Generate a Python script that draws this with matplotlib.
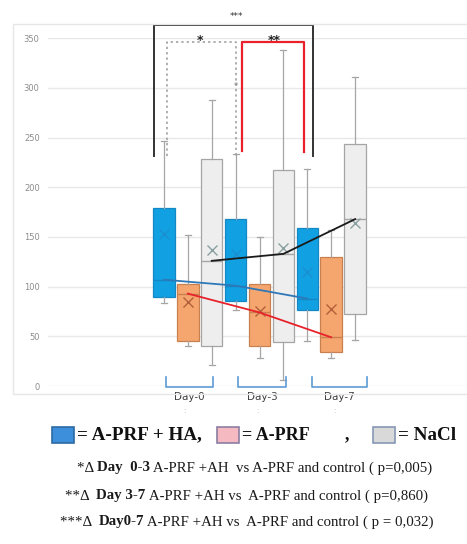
import matplotlib
matplotlib.use("Agg")
import matplotlib.pyplot as plt
from matplotlib.patches import Rectangle

# data (values in the y-axis unit)
days = ["Day-0", "Day-3", "Day-7"]
series = ["A-PRF + HA", "A-PRF", "NaCl"]

ha_lo = [84, 77, 45]
ha_q1 = [90, 86, 76]
ha_med = [107, 101, 88]
ha_q3 = [179, 168, 159]
ha_hi = [247, 234, 218]
ha_mean = [153, 133, 115]

prf_lo = [40, 28, 28]
prf_q1 = [45, 40, 34]
prf_med = [93, 74, 49]
prf_q3 = [103, 103, 130]
prf_hi = [152, 150, 157]
prf_mean = [85, 75, 78]

nacl_lo = [21, 6, 46]
nacl_q1 = [40, 44, 72]
nacl_med = [126, 133, 168]
nacl_q3 = [228, 217, 244]
nacl_hi = [288, 338, 311]
nacl_mean = [137, 139, 164]

yticks = [0, 50, 100, 150, 200, 250, 300, 350]

footnotes = [
    ("*\u0394 ", "Day  0-3", " A-PRF +AH  vs A-PRF and control ( p=0,005)"),
    ("**\u0394  ", "Day 3-7", " A-PRF +AH vs  A-PRF and control ( p=0,860)"),
    ("***\u0394  ", "Day0-7", " A-PRF +AH vs  A-PRF and control ( p = 0,032)"),
]

W, H = 467, 544
fig = plt.figure(figsize=(W / 100, H / 100), dpi=100)


def fx(x):
    return x / W


def fy(y):
    return 1 - y / H


# outer chart frame
fig.patches.append(Rectangle((fx(13), fy(394)), fx(470) - fx(13), fy(24) - fy(394),
                             transform=fig.transFigure, fill=False,
                             edgecolor="#e6e6e6", lw=1.0, zorder=0))

ax = fig.add_axes([fx(48), fy(386), 1 - fx(48), fy(38.3) - fy(386)])

groups = [
    (ha_lo, ha_q1, ha_med, ha_q3, ha_hi, ha_mean, "#11a1e2", "#1587c5", "#1a8fd0"),
    (prf_lo, prf_q1, prf_med, prf_q3, prf_hi, prf_mean, "#f5a66f", "#c98050", "#b5603a"),
    (nacl_lo, nacl_q1, nacl_med, nacl_q3, nacl_hi, nacl_mean, "#eeeeee", "#a5a5a5", "#8aa0a0"),
]

med_pos = {}
for k, (lo, q1, med, q3, hi, mean, face, edge, mcol) in enumerate(groups):
    stats = []
    pos = []
    for d in range(len(days)):
        stats.append(dict(whislo=lo[d], q1=q1[d], med=med[d], q3=q3[d],
                          whishi=hi[d], mean=mean[d], fliers=[]))
        pos.append(1 + d * 3 + k)
    med_pos[k] = pos
    ax.bxp(stats, positions=pos, widths=0.9, patch_artist=True, showmeans=True,
           showfliers=False, capwidths=0.25, manage_ticks=False,
           boxprops=dict(facecolor=face, edgecolor=edge, lw=0.9),
           medianprops=dict(color=edge, lw=1.0),
           whiskerprops=dict(color="#a6a6a6", lw=0.9),
           capprops=dict(color="#a6a6a6", lw=0.9),
           meanprops=dict(marker="x", markersize=6.5, markeredgecolor=mcol,
                          markeredgewidth=1.0))

ax.set_ylim(0, 350)
ax.set_xlim(-3.85, 13.68)
for s in ax.spines.values():
    s.set_visible(False)
ax.set_yticks(yticks)
ax.tick_params(axis="y", length=0, labelsize=6, labelcolor="#8c8c8c", pad=6)
ax.set_xticks([])
ax.yaxis.grid(True, color="#e8e8e8", lw=1.0)
ax.set_axisbelow(True)

# median trend lines
ax.plot(med_pos[0], ha_med, color="#2e78b7", lw=1.3, zorder=5)
ax.plot(med_pos[1], prf_med, color="#e8222b", lw=1.3, zorder=5)
ax.plot(med_pos[2], nacl_med, color="#1a1a1a", lw=1.3, zorder=5)

# significance brackets
ax.plot([0.58, 0.58, 7.23, 7.23], [232, 363, 363, 232], color="#333333",
        lw=1.4, clip_on=False, zorder=6)
ax.plot([1.13, 1.13, 4.0, 4.0], [232, 346, 346, 232], color="#9a9a9a",
        lw=1.1, ls=(0, (1.5, 2)), clip_on=False, zorder=6)
ax.plot([4.26, 4.26, 6.86, 6.86], [237, 346.5, 346.5, 236], color="#e8212b",
        lw=1.6, clip_on=False, zorder=6)
ax.text(4.05, 372, "***", ha="center", va="center", fontsize=6.5,
        color="#333333", clip_on=False)
ax.text(2.5, 348, "*", ha="center", va="center", fontsize=9,
        fontweight="bold", color="#222222")
ax.text(5.6, 348, "**", ha="center", va="center", fontsize=9,
        fontweight="bold", color="#222222")
ax.text(4.0, 301, "*", ha="center", va="center", fontsize=6, color="#777777")

# day brackets under the boxes
spans = [(1.08, 3.05), (4.1, 6.1), (7.2, 9.5)]
for (a, b), name in zip(spans, days):
    ax.plot([a, a, b, b], [9, -1, -1, 9], color="#5b9bd5", lw=1.2,
            clip_on=False, zorder=6)
    ax.text((a + b) / 2, -11, name, ha="center", va="center", fontsize=7.5,
            color="#404040", clip_on=False)
    ax.text((a + b) / 2 - 0.2, -25, ":", ha="center", va="center",
            fontsize=5, color="#bbbbbb", clip_on=False)

# legend row
serif = "Liberation Serif"
legend_items = [
    (52, "#3d8fdb", "#2d6aa3", "= A-PRF + HA,", 13.8),
    (217, "#f4b9c1", "#8c7ea2", "= A-PRF", 13.0),
    (373, "#d9d9d9", "#8797b5", "= NaCl", 13.8),
]
for x0, face, edge, label, size in legend_items:
    fig.patches.append(Rectangle((fx(x0), fy(443)), fx(22), 16 / H,
                                 transform=fig.transFigure, facecolor=face,
                                 edgecolor=edge, lw=1.2))
    fig.text(fx(x0 + 25), fy(435), label, family=serif, fontweight="bold",
             fontsize=size, ha="left", va="center", color="#111111")
fig.text(fx(345), fy(435), ",", family=serif, fontweight="bold",
         fontsize=13, ha="left", va="center", color="#111111")

# footnotes with a bold part in the middle
fig.canvas.draw()
renderer = fig.canvas.get_renderer()
starts = [77, 65, 60]
rows = [468, 496, 522]
for (pre, bold, post), x0, y0 in zip(footnotes, starts, rows):
    x = fx(x0)
    for part, weight in ((pre, "normal"), (bold, "bold"), (post, "normal")):
        t = fig.text(x, fy(y0), part, family=serif, fontweight=weight,
                     fontsize=10.7, ha="left", va="center", color="#1a1a1a")
        bb = t.get_window_extent(renderer)
        x += bb.width / W

fig.savefig("out.png", dpi=100)
